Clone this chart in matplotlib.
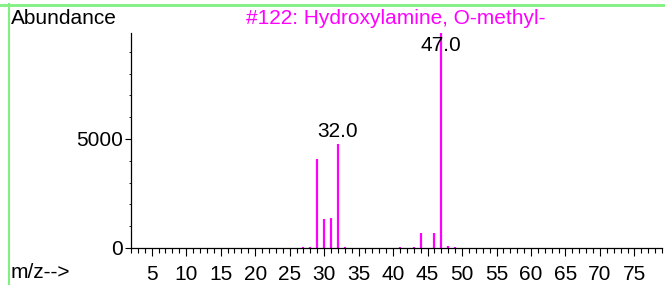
import matplotlib.pyplot as plt
from matplotlib.lines import Line2D
from matplotlib.ticker import MultipleLocator

plt.rcParams['font.family'] = ['Liberation Sans', 'DejaVu Sans']

#%% spectrum data
mz = [27, 28, 29, 30, 31, 32, 33, 41, 43, 44, 46, 47, 48, 49]
abund = [30, 40, 4060, 1330, 1370, 4770, 40, 30, 30, 700, 670, 9870, 110, 30]

title = '#122: Hydroxylamine, O-methyl-'
peak_labels = [32, 47]
xticks = list(range(5, 80, 5))
yticks = [0, 5000]

#%%
fig = plt.figure(figsize=(6.65, 2.85), dpi=100)
ax = fig.add_axes([0.197, 0.130, 0.7985, 0.755])

ax.vlines(mz, 0, abund, color='#ff00ff', lw=1.6)

ax.set_xlim(2, 79)
ax.set_ylim(0, max(abund))
ax.set_xticks(xticks)
ax.set_yticks(yticks)
ax.xaxis.set_minor_locator(MultipleLocator(1))
ax.yaxis.set_minor_locator(MultipleLocator(1000))
ax.tick_params(axis='both', which='major', labelsize=15, width=0.8, color='k')
ax.tick_params(axis='x', which='major', length=6, pad=6)
ax.tick_params(axis='x', which='minor', length=3.5, width=0.8)
ax.tick_params(axis='y', which='major', length=4, pad=2)
ax.tick_params(axis='y', which='minor', length=1.5, width=0.6)

for s in ['top', 'right']:
    ax.spines[s].set_visible(False)
for s in ['left', 'bottom']:
    ax.spines[s].set_linewidth(0.9)

# peak labels
for p in peak_labels:
    h = abund[mz.index(p)]
    if h >= max(abund) * 0.95:
        ax.text(p, h * 0.94, f'{p:.1f}', ha='center', va='center', fontsize=15)
    else:
        ax.annotate(f'{p:.1f}', (p, h), xytext=(0, 2), textcoords='offset points',
                    ha='center', va='bottom', fontsize=15)

fig.text(11 / 665, 1 - 18 / 285, 'Abundance', ha='left', va='center', fontsize=15)
fig.text(396 / 665, 1 - 18 / 285, title, ha='center', va='center', fontsize=15, color='#ff00ff')
fig.text(11 / 665, 1 - 272 / 285, 'm/z-->', ha='left', va='center', fontsize=15)

# green frame
fig.add_artist(Line2D([0, 1], [1 - 5 / 285] * 2, color='#80f080', lw=2, transform=fig.transFigure))
fig.add_artist(Line2D([9 / 665] * 2, [0, 1 - 4 / 285], color='#80f080', lw=1.5, transform=fig.transFigure))

plt.savefig('out.png', dpi=100)
